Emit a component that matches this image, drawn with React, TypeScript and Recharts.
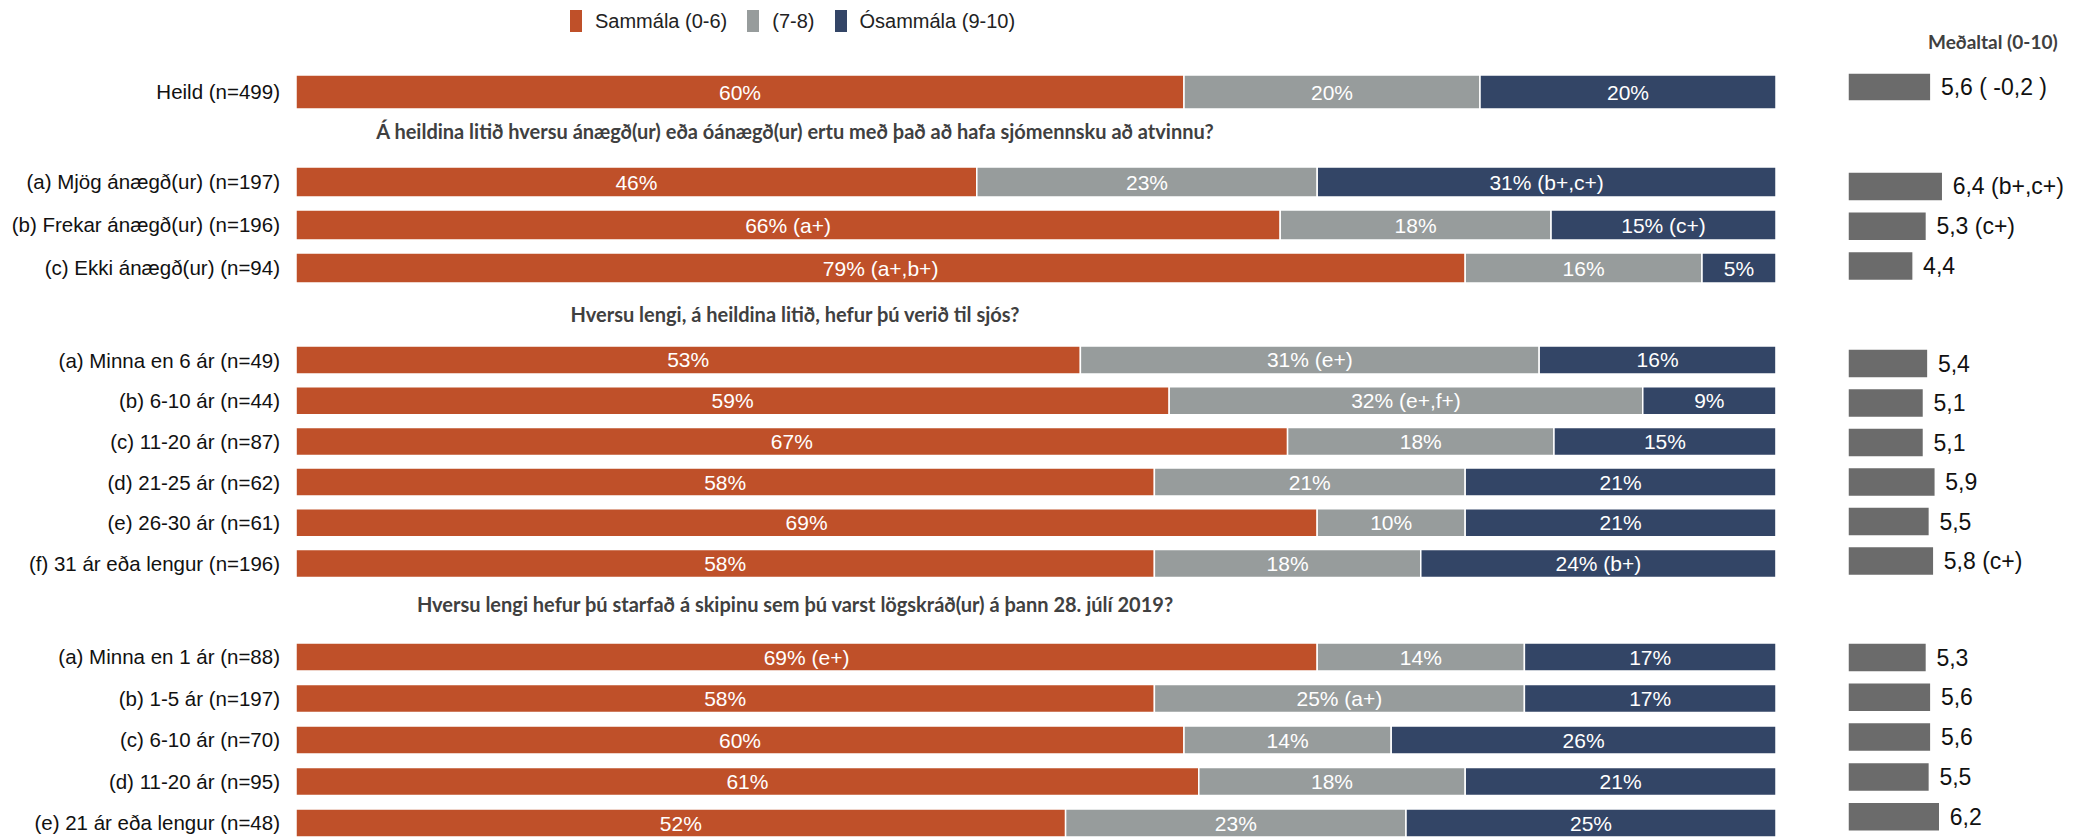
import React from "react";
import { BarChart, Bar, XAxis, YAxis, LabelList } from "recharts";

// ---------- DATA ----------
const seriesNames = ["Sammála (0-6)", "(7-8)", "Ósammála (9-10)"];

const headings = [
  "Á heildina litið hversu ánægð(ur) eða óánægð(ur) ertu með það að hafa sjómennsku að atvinnu?",
  "Hversu lengi, á heildina litið, hefur þú verið til sjós?",
  "Hversu lengi hefur þú starfað á skipinu sem þú varst lögskráð(ur) á þann 28. júlí 2019?",
];
const meanTitle = "Meðaltal (0-10)";

const hCategories = ["Heild (n=499)"];
const hSammala = [60];
const hMid = [20];
const hOsammala = [20];
const hSammalaLabels = ["60%"];
const hMidLabels = ["20%"];
const hOsammalaLabels = ["20%"];
const hMeans = [5.6];
const hMeanLabels = ["5,6 ( -0,2 )"];

const s1Categories = ["(a) Mjög ánægð(ur) (n=197)", "(b) Frekar ánægð(ur) (n=196)", "(c) Ekki ánægð(ur) (n=94)"];
const s1Sammala = [46, 66.5, 79];
const s1Mid = [23, 18.3, 16];
const s1Osammala = [31, 15.2, 5];
const s1SammalaLabels = ["46%", "66% (a+)", "79% (a+,b+)"];
const s1MidLabels = ["23%", "18%", "16%"];
const s1OsammalaLabels = ["31% (b+,c+)", "15% (c+)", "5%"];
const s1Means = [6.4, 5.3, 4.4];
const s1MeanLabels = ["6,4 (b+,c+)", "5,3 (c+)", "4,4"];

const s2Categories = [
  "(a) Minna en 6 ár (n=49)",
  "(b) 6-10 ár (n=44)",
  "(c) 11-20 ár (n=87)",
  "(d) 21-25 ár (n=62)",
  "(e) 26-30 ár (n=61)",
  "(f) 31 ár eða lengur (n=196)",
];
const s2Sammala = [53, 59, 67, 58, 69, 58];
const s2Mid = [31, 32, 18, 21, 10, 18];
const s2Osammala = [16, 9, 15, 21, 21, 24];
const s2SammalaLabels = ["53%", "59%", "67%", "58%", "69%", "58%"];
const s2MidLabels = ["31% (e+)", "32% (e+,f+)", "18%", "21%", "10%", "18%"];
const s2OsammalaLabels = ["16%", "9%", "15%", "21%", "21%", "24% (b+)"];
const s2Means = [5.4, 5.1, 5.1, 5.9, 5.5, 5.8];
const s2MeanLabels = ["5,4", "5,1", "5,1", "5,9", "5,5", "5,8 (c+)"];

const s3Categories = [
  "(a) Minna en 1 ár (n=88)",
  "(b) 1-5 ár (n=197)",
  "(c) 6-10 ár (n=70)",
  "(d) 11-20 ár (n=95)",
  "(e) 21 ár eða lengur (n=48)",
];
const s3Sammala = [69, 58, 60, 61, 52];
const s3Mid = [14, 25, 14, 18, 23];
const s3Osammala = [17, 17, 26, 21, 25];
const s3SammalaLabels = ["69% (e+)", "58%", "60%", "61%", "52%"];
const s3MidLabels = ["14%", "25% (a+)", "14%", "18%", "23%"];
const s3OsammalaLabels = ["17%", "17%", "26%", "21%", "25%"];
const s3Means = [5.3, 5.6, 5.6, 5.5, 6.2];
const s3MeanLabels = ["5,3", "5,6", "5,6", "5,5", "6,2"];

// ---------- STYLE ----------
const COLORS = ["#BF5029", "#979C9C", "#334566"];
const MEAN_COLOR = "#6B6B6B";
const LABEL_FONT = "'Liberation Sans', Arial, sans-serif";
const MEAN_FONT = "'Liberation Sans', Arial, sans-serif";
const HEAD_FONT = "Lato, 'Open Sans', sans-serif";

function buildMain(cats: string[], a: number[], b: number[], c: number[], la: string[], lb: string[], lc: string[]) {
  return cats.map((name, i) => ({ name, a: a[i], b: b[i], c: c[i], la: la[i], lb: lb[i], lc: lc[i] }));
}
function buildMean(cats: string[], m: number[], ml: string[]) {
  return cats.map((name, i) => ({ name, mean: m[i], ml: ml[i] }));
}

const sections = [
  {
    main: buildMain(hCategories, hSammala, hMid, hOsammala, hSammalaLabels, hMidLabels, hOsammalaLabels),
    mean: buildMean(hCategories, hMeans, hMeanLabels),
    top: 70, height: 44, barSize: 34,
    meanTop: 67, meanHeight: 40, meanBarSize: 28,
  },
  {
    main: buildMain(s1Categories, s1Sammala, s1Mid, s1Osammala, s1SammalaLabels, s1MidLabels, s1OsammalaLabels),
    mean: buildMean(s1Categories, s1Means, s1MeanLabels),
    top: 159.5, height: 129, barSize: 30,
    meanTop: 166.6, meanHeight: 119.3, meanBarSize: 29,
  },
  {
    main: buildMain(s2Categories, s2Sammala, s2Mid, s2Osammala, s2SammalaLabels, s2MidLabels, s2OsammalaLabels),
    mean: buildMean(s2Categories, s2Means, s2MeanLabels),
    top: 340, height: 244.2, barSize: 28,
    meanTop: 343.8, meanHeight: 237, meanBarSize: 29,
  },
  {
    main: buildMain(s3Categories, s3Sammala, s3Mid, s3Osammala, s3SammalaLabels, s3MidLabels, s3OsammalaLabels),
    mean: buildMean(s3Categories, s3Means, s3MeanLabels),
    top: 635.8, height: 207.5, barSize: 28,
    meanTop: 638, meanHeight: 199, meanBarSize: 29,
  },
];

const headingCenters = [131, 314, 604];

const renderSegLabel = (p: any) => {
  const { x, y, width, height, value } = p;
  return (
    <text
      x={Number(x) + Number(width) / 2}
      y={Number(y) + Number(height) / 2}
      textAnchor="middle"
      dominantBaseline="central"
      fill="#ffffff"
      fontSize={21}
      fontFamily={LABEL_FONT}
    >
      {value}
    </text>
  );
};

const renderMeanLabel = (p: any) => {
  const { x, y, width, height, value } = p;
  return (
    <text
      x={Number(x) + Number(width) + 10}
      y={Number(y) + Number(height) / 2}
      textAnchor="start"
      dominantBaseline="central"
      fill="#111111"
      fontSize={23}
      fontFamily={MEAN_FONT}
    >
      {value}
    </text>
  );
};

function LegendRow() {
  return (
    <div style={{ position: "absolute", left: 570, top: 10, display: "flex", alignItems: "center" }}>
      {seriesNames.map((name, i) => (
        <div key={i} style={{ display: "flex", alignItems: "center", marginRight: 20 }}>
          <div style={{ width: 12, height: 22, background: COLORS[i], marginRight: 13 }} />
          <span style={{ fontFamily: LABEL_FONT, fontSize: 20, color: "#222", lineHeight: "22px" }}>{name}</span>
        </div>
      ))}
    </div>
  );
}

function MainChart({ s }: { s: any }) {
  return (
    <div style={{ position: "absolute", left: 0, top: s.top }}>
      <BarChart
        layout="vertical"
        width={1790}
        height={s.height}
        data={s.main}
        margin={{ top: 0, right: 14, bottom: 0, left: 0 }}
      >
        <XAxis type="number" domain={[0, 100]} hide />
        <YAxis
          type="category"
          dataKey="name"
          width={296}
          axisLine={false}
          tickLine={false}
          tickSize={0}
          tickMargin={16}
          interval={0}
          tick={{ fontSize: 20.5, fill: "#111", fontFamily: LABEL_FONT }}
        />
        {["a", "b", "c"].map((k, i) => (
          <Bar
            key={k}
            dataKey={k}
            name={seriesNames[i]}
            stackId="s"
            fill={COLORS[i]}
            stroke="#ffffff"
            strokeWidth={1.5}
            barSize={s.barSize}
            isAnimationActive={false}
          >
            <LabelList dataKey={"l" + k} content={renderSegLabel} />
          </Bar>
        ))}
      </BarChart>
    </div>
  );
}

function MeanChart({ s }: { s: any }) {
  return (
    <div style={{ position: "absolute", left: 1848, top: s.meanTop }}>
      <BarChart
        layout="vertical"
        width={247}
        height={s.meanHeight}
        data={s.mean}
        margin={{ top: 0, right: 99, bottom: 0, left: 0 }}
      >
        <XAxis type="number" domain={[0, 10]} hide />
        <YAxis type="category" dataKey="name" hide />
        <Bar
          dataKey="mean"
          fill={MEAN_COLOR}
          stroke="#ffffff"
          strokeWidth={1.5}
          barSize={s.meanBarSize}
          isAnimationActive={false}
        >
          <LabelList dataKey="ml" content={renderMeanLabel} />
        </Bar>
      </BarChart>
    </div>
  );
}

export default function App() {
  return (
    <div
      style={{
        position: "absolute",
        left: 0,
        top: 0,
        width: 2095,
        height: 838,
        overflow: "hidden",
        background: "#ffffff",
      }}
    >
      <LegendRow />
      {sections.map((s, i) => (
        <MainChart key={"m" + i} s={s} />
      ))}
      {sections.map((s, i) => (
        <MeanChart key={"x" + i} s={s} />
      ))}
      {headings.map((h, i) => (
        <div
          key={"h" + i}
          style={{
            position: "absolute",
            left: 195,
            width: 1200,
            top: headingCenters[i] - 13,
            height: 26,
            lineHeight: "26px",
            textAlign: "center",
            fontFamily: HEAD_FONT,
            fontWeight: 700,
            fontSize: 20,
            color: "#404040",
            whiteSpace: "nowrap",
          }}
        >
          {h}
        </div>
      ))}
      <div
        style={{
          position: "absolute",
          left: 1928,
          top: 29,
          height: 26,
          lineHeight: "26px",
          fontFamily: HEAD_FONT,
          fontWeight: 700,
          fontSize: 19,
          color: "#404040",
          whiteSpace: "nowrap",
        }}
      >
        {meanTitle}
      </div>
    </div>
  );
}
